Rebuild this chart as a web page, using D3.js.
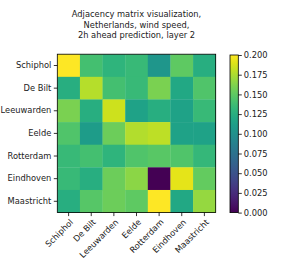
<!DOCTYPE html>
<html>
<head>
<meta charset="UTF-8">
<title>adjacency matrix</title>
<script src="https://cdn.jsdelivr.net/npm/d3@7"></script>
<style>
body { margin: 0; background: #fff; }
text { font-family: "DejaVu Sans", sans-serif; fill: #222; }
</style>
</head>
<body>
<svg id="chart" width="283" height="265"></svg>
<script>
// stations (rows = from, cols = to)
var stations = ["Schiphol", "De Bilt", "Leeuwarden", "Eelde", "Rotterdam", "Eindhoven", "Maastricht"];

// adjacency weights, row by row
var rowSchiphol   = [0.200, 0.140, 0.130, 0.135, 0.105, 0.150, 0.125];
var rowDeBilt     = [0.125, 0.178, 0.140, 0.135, 0.160, 0.120, 0.145];
var rowLeeuwarden = [0.160, 0.125, 0.185, 0.115, 0.125, 0.115, 0.135];
var rowEelde      = [0.145, 0.110, 0.155, 0.177, 0.180, 0.115, 0.115];
var rowRotterdam  = [0.135, 0.140, 0.130, 0.145, 0.148, 0.145, 0.133];
var rowEindhoven  = [0.135, 0.125, 0.155, 0.165, 0.000, 0.192, 0.152];
var rowMaastricht = [0.125, 0.147, 0.155, 0.150, 0.200, 0.120, 0.168];
var matrix = [rowSchiphol, rowDeBilt, rowLeeuwarden, rowEelde, rowRotterdam, rowEindhoven, rowMaastricht];

var cbarTicks = [0, 0.025, 0.05, 0.075, 0.1, 0.125, 0.15, 0.175, 0.2];
var titleLines = ["Adjacency matrix visualization,", "Netherlands, wind speed,", "2h ahead prediction, layer 2"];

var svg = d3.select("#chart");
var mLeft = 57.3, mTop = 54.2, size = 158.4;

var x = d3.scaleBand().domain(stations).range([mLeft, mLeft + size]);
var y = d3.scaleBand().domain(stations).range([mTop, mTop + size]);
var color = d3.scaleSequential(d3.interpolateViridis).domain([0, 0.2]);

// title
svg.append("g").selectAll("text")
  .data(titleLines).enter().append("text")
  .attr("x", mLeft + size / 2)
  .attr("y", function(d, i) { return 17 + i * 10.6; })
  .attr("text-anchor", "middle")
  .style("font-size", "8.3px")
  .text(function(d) { return d; });

// cells
var cells = [];
matrix.forEach(function(row, i) {
  row.forEach(function(v, j) { cells.push({r: stations[i], c: stations[j], v: v}); });
});
svg.append("g").selectAll("rect")
  .data(cells).enter().append("rect")
  .attr("x", function(d) { return x(d.c); })
  .attr("y", function(d) { return y(d.r); })
  .attr("width", x.bandwidth() + 0.3)
  .attr("height", y.bandwidth() + 0.3)
  .attr("fill", function(d) { return color(d.v); });

svg.append("rect")
  .attr("x", mLeft).attr("y", mTop).attr("width", size).attr("height", size)
  .attr("fill", "none").attr("stroke", "#000").attr("stroke-width", 0.8);

// y axis
var yAxis = svg.append("g")
  .attr("transform", "translate(" + mLeft + ",0)")
  .call(d3.axisLeft(y).tickSize(3.5).tickPadding(2.5));
yAxis.select(".domain").remove();
yAxis.selectAll("text").style("font-size", "8.3px").attr("fill", "#222");
yAxis.selectAll("line").attr("stroke", "#000").attr("stroke-width", 0.8);

// x axis, rotated labels
var xAxis = svg.append("g")
  .attr("transform", "translate(0," + (mTop + size) + ")")
  .call(d3.axisBottom(x).tickSize(3.5).tickPadding(2.5));
xAxis.select(".domain").remove();
xAxis.selectAll("line").attr("stroke", "#000").attr("stroke-width", 0.8);
xAxis.selectAll("text")
  .style("font-size", "8.3px").attr("fill", "#222")
  .attr("text-anchor", "end")
  .attr("dy", "0.35em")
  .attr("transform", "translate(3,8) rotate(-45)")
  .attr("y", 0).attr("x", 0);

// colorbar
var cbX = 230, cbW = 8.3, cbTop = 55, cbH = 157.6;
var cy = d3.scaleLinear().domain([0, 0.2]).range([cbTop + cbH, cbTop]);
var defs = svg.append("defs");
var grad = defs.append("linearGradient").attr("id", "vir")
  .attr("x1", "0").attr("y1", "1").attr("x2", "0").attr("y2", "0");
d3.range(0, 1.001, 0.05).forEach(function(t) {
  grad.append("stop").attr("offset", t).attr("stop-color", d3.interpolateViridis(t));
});
svg.append("rect")
  .attr("x", cbX).attr("y", cbTop).attr("width", cbW).attr("height", cbH)
  .attr("fill", "url(#vir)").attr("stroke", "#000").attr("stroke-width", 0.8);

var cAxis = svg.append("g")
  .attr("transform", "translate(" + (cbX + cbW) + ",0)")
  .call(d3.axisRight(cy).tickValues(cbarTicks).tickFormat(d3.format(".3f")).tickSize(3.5).tickPadding(2));
cAxis.select(".domain").remove();
cAxis.selectAll("line").attr("stroke", "#000").attr("stroke-width", 0.8);
cAxis.selectAll("text").style("font-size", "8.3px").attr("fill", "#222");
</script>
</body>
</html>
